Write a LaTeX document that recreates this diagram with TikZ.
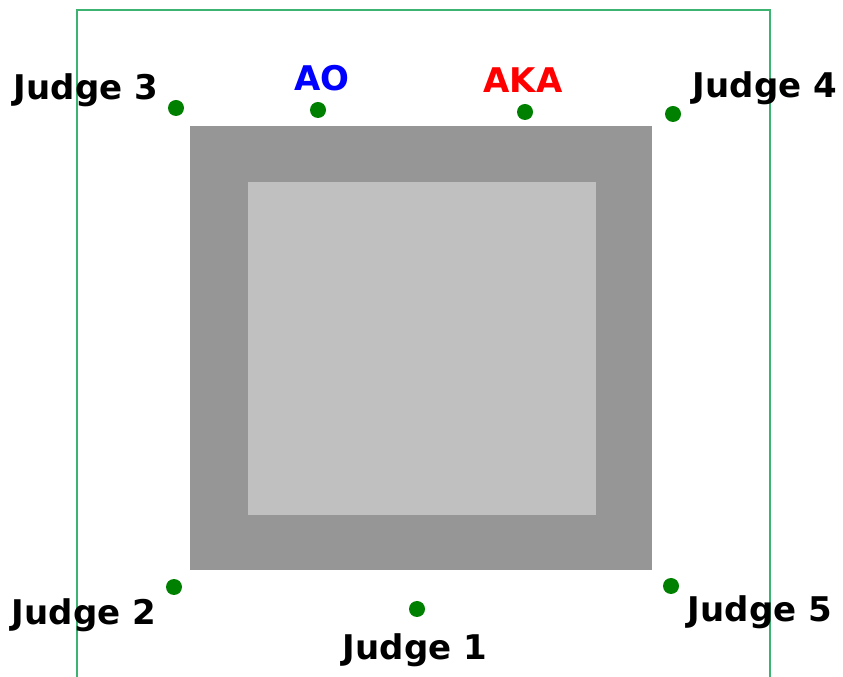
\documentclass[tikz,border=0pt]{standalone}
\usepackage{fontspec}
\setmainfont{DejaVu Sans}
\definecolor{framegreen}{HTML}{3CB371}
\definecolor{dotgreen}{HTML}{008000}
\definecolor{outergray}{HTML}{969696}
\definecolor{innergray}{HTML}{C0C0C0}
\begin{document}
\begin{tikzpicture}[x=1pt,y=1pt,
  dot/.style={circle,fill=dotgreen,inner sep=0pt,minimum size=16pt},
  lab/.style={font=\bfseries\fontsize{34}{34}\selectfont,inner sep=0pt,text=black},
  blk/.style={inner sep=0pt,draw=none}]
\useasboundingbox (0,0) rectangle (843,677);
% frame
\draw[framegreen,line width=1.8pt] (77,-5) -- (77,667) -- (770,667) -- (770,-5);
% mat
\node[blk,fill=outergray,minimum width=462pt,minimum height=444pt] (outer) at (421,329) {};
\node[blk,fill=innergray,minimum width=348pt,minimum height=333pt] (inner) at (422,328.5) {};
% dots
\node[dot] (d3) at (176,569) {};
\node[dot] (dao) at (318,567) {};
\node[dot] (daka) at (525,565) {};
\node[dot] (d4) at (673,563) {};
\node[dot] (d2) at (174,90) {};
\node[dot] (d1) at (417,68) {};
\node[dot] (d5) at (671,91) {};
% labels
\node[lab] (l3) at (86,587) {Judge 3};
\node[lab,text=blue] (lao) at (322,599) {AO};
\node[lab,text=red] (laka) at (523,597) {AKA};
\node[lab] (l4) at (765,589) {Judge 4};
\node[lab] (l2) at (84,62) {Judge 2};
\node[lab] (l1) at (415,27) {Judge 1};
\node[lab] (l5) at (760,65) {Judge 5};
\end{tikzpicture}
\end{document}
